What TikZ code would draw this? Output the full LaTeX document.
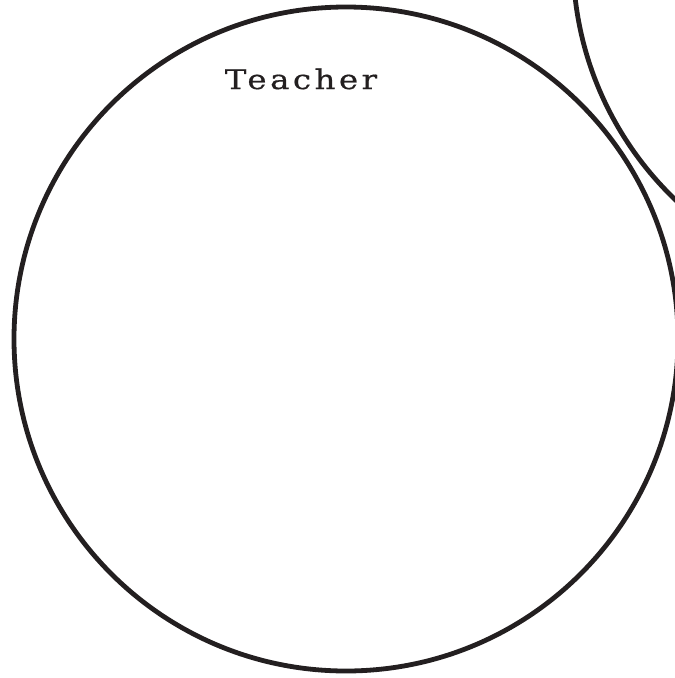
\documentclass[tikz,border=0pt]{standalone}
\usepackage{fontspec}
\newfontfamily\labelfont[LetterSpace=13,FakeStretch=1.2,FakeBold=0.6]{DejaVu Serif}
\definecolor{ink}{HTML}{231F20}
\begin{document}
\begin{tikzpicture}[x=1pt,y=-1pt,
  ring/.style={draw=ink,line width=4.8pt},
  title/.style={font=\labelfont\fontsize{27}{32}\selectfont,text=ink,inner sep=0pt,anchor=base}]
\useasboundingbox (0,0) rectangle (675,678);
\clip (0,0) rectangle (675,678);
\coordinate (c1) at (346,339);
\coordinate (c2) at (905,-40);
\draw[ring] (c1) circle (332);
\draw[ring] (c2) circle (332);
\node[title] (teacher) at (301,89) {Teacher};
\end{tikzpicture}
\end{document}
